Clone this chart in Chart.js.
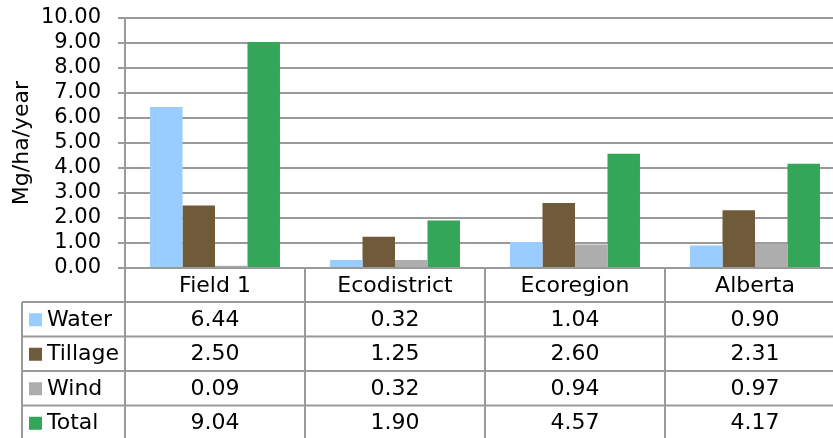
<!DOCTYPE html>
<html>
<head>
<meta charset="utf-8">
<script src="https://cdn.jsdelivr.net/npm/chart.js@4/dist/chart.umd.min.js"></script>
<style>
  html, body { margin: 0; padding: 0; background: #fff; overflow: hidden; }
  #wrap { width: 850px; height: 438px; }
</style>
</head>
<body>
<div id="wrap"><canvas id="erosion"></canvas></div>
<script>
// chart data
var categories = ['Field 1', 'Ecodistrict', 'Ecoregion', 'Alberta'];
var water = [6.44, 0.32, 1.04, 0.90];
var tillage = [2.50, 1.25, 2.60, 2.31];
var wind = [0.09, 0.32, 0.94, 0.97];
var total = [9.04, 1.90, 4.57, 4.17];
var seriesNames = ['Water', 'Tillage', 'Wind', 'Total'];
var seriesColors = ['#99ccff', '#6f5a39', '#adadad', '#33a65a'];

var FONT = 'DejaVu Sans, Verdana, sans-serif';
var GRID = '#9a9a9a';

// draws the data table under the plot, columns follow the x scale
var dataTable = {
    id: 'dataTable',
    afterDraw: function (chart) {
        var c = chart.ctx;
        var area = chart.chartArea;
        var xs = chart.scales.x;
        var colW = (area.right - area.left) / categories.length;
        var headTop = area.bottom;
        var rowTop = 302;
        var rowH = 34.5;
        var bottom = 445;
        var legLeft = 22;

        c.save();
        c.strokeStyle = GRID;
        c.lineWidth = 2;

        // vertical lines
        for (var i = 0; i <= categories.length; i++) {
            var lx = area.left + i * colW;
            c.beginPath();
            c.moveTo(lx, headTop);
            c.lineTo(lx, bottom);
            c.stroke();
        }
        c.beginPath();
        c.moveTo(legLeft, rowTop);
        c.lineTo(legLeft, bottom);
        c.stroke();

        // horizontal lines
        for (var r = 0; r < 4; r++) {
            var ly = rowTop + r * rowH;
            c.beginPath();
            c.moveTo(legLeft, ly);
            c.lineTo(area.right + 10, ly);
            c.stroke();
        }

        c.fillStyle = '#000';
        c.font = '22px ' + FONT;
        c.textBaseline = 'middle';
        c.textAlign = 'center';

        // header row
        categories.forEach(function (name, i) {
            c.fillText(name, xs.getPixelForValue(i), (headTop + rowTop) / 2 + 1);
        });

        // series rows
        var rows = [water, tillage, wind, total];
        rows.forEach(function (vals, r) {
            var cy = rowTop + r * rowH + rowH / 2 + 1;
            c.fillStyle = seriesColors[r];
            c.fillRect(29, cy - 7, 13, 13);
            c.fillStyle = '#000';
            c.textAlign = 'left';
            c.fillText(seriesNames[r], 47, cy);
            c.textAlign = 'center';
            vals.forEach(function (v, i) {
                c.fillText(v.toFixed(2), xs.getPixelForValue(i), cy);
            });
        });
        c.restore();
    }
};

var ctx = document.getElementById('erosion').getContext('2d');
var chart = new Chart(ctx, {
    type: 'bar',
    data: {
        labels: categories,
        datasets: [water, tillage, wind, total].map(function (vals, i) {
            return {
                label: seriesNames[i],
                data: vals,
                backgroundColor: seriesColors[i],
                borderWidth: 0,
                categoryPercentage: 0.722,
                barPercentage: 1.0
            };
        })
    },
    options: {
        responsive: true,
        maintainAspectRatio: false,
        animation: false,
        layout: { padding: { top: 18, bottom: 170, left: 0, right: 5 } },
        plugins: {
            legend: { display: false },
            tooltip: { enabled: false }
        },
        scales: {
            x: {
                display: false
            },
            y: {
                min: 0,
                max: 10,
                afterFit: function (scale) {
                    scale.width = 125;
                    scale.paddingTop = 12;
                    scale.paddingBottom = 12;
                },
                ticks: {
                    stepSize: 1,
                    autoSkip: false,
                    color: '#000',
                    padding: 17,
                    font: { family: FONT, size: 21 },
                    callback: function (v) { return v.toFixed(2); }
                },
                grid: {
                    color: GRID,
                    lineWidth: 2,
                    tickLength: 7
                },
                border: { color: GRID, width: 2 },
                title: {
                    display: true,
                    text: 'Mg/ha/year',
                    color: '#000',
                    font: { family: FONT, size: 22 },
                    padding: { top: 9, bottom: 0 }
                }
            }
        }
    },
    plugins: [dataTable]
});
</script>
</body>
</html>
